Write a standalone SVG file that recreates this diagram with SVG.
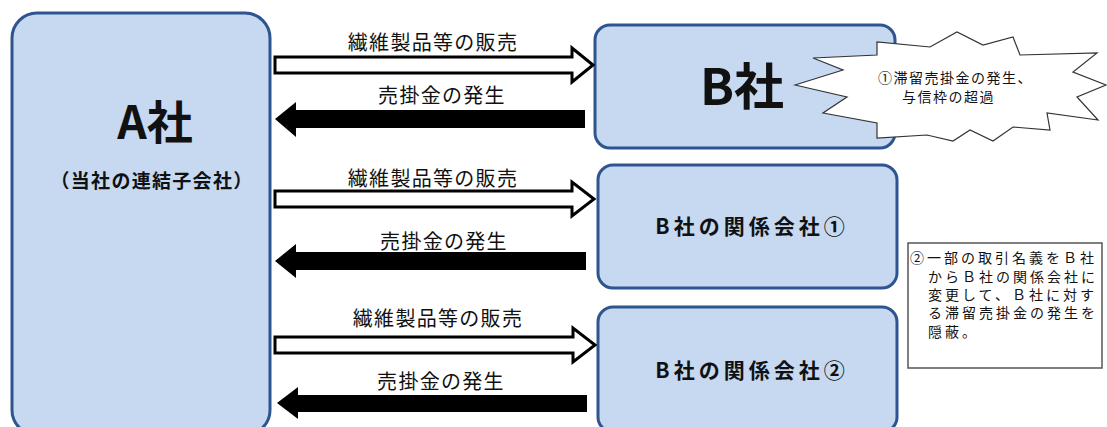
<svg xmlns="http://www.w3.org/2000/svg" width="1107" height="427" viewBox="0 0 1107 427">
<style>
.box{fill:#c6d9f1;stroke:#2f5590;stroke-width:3}
.t{font-family:"Noto Sans CJK JP","Noto Sans",sans-serif;fill:#111}
.lbl{font-size:20px;letter-spacing:1.3px;text-anchor:middle}
.hollow{fill:#fff;stroke:#000;stroke-width:3;stroke-linejoin:miter}
.solid{fill:#000;stroke:none}
.note{font-size:14px;letter-spacing:3px}
</style>
<rect width="1107" height="427" fill="#fff"/>
<g id="node-A">
<rect class="box" x="12" y="13" width="258" height="422" rx="25"/>
<text class="t" x="155" y="139" font-size="46" font-weight="bold" text-anchor="middle">A社</text>
<text class="t" x="152" y="188" font-size="19" font-weight="bold" letter-spacing="1.3" text-anchor="middle">（当社の連結子会社）</text>
</g>
<g id="node-B">
<rect class="box" x="595" y="25" width="300" height="123" rx="15"/>
<text class="t" x="742" y="105" font-size="50" font-weight="bold" text-anchor="middle">B社</text>
</g>
<g id="note-1">
<polygon points="795,85 843,70 813,58 877,55 877,42 930,47 957,32 983,45 1013,37 1020,55 1097,53 1073,72 1106,85 1077,97 1098,120 1047,113 1050,130 1013,127 993,141 970,130 953,141 927,135 877,138 877,123 823,113 847,97" fill="#fff" stroke="#333" stroke-width="1.2" stroke-linejoin="miter"/>
<text class="t" x="878" y="83" font-size="14" letter-spacing="1.5">①滞留売掛金の発生、</text>
<text class="t" x="902" y="102" font-size="14" letter-spacing="1.5">与信枠の超過</text>
</g>
<g id="node-B1">
<rect class="box" x="598" y="165" width="299" height="123" rx="15"/>
<text class="t" x="752" y="234" font-size="21" font-weight="bold" letter-spacing="4" text-anchor="middle">B社の関係会社①</text>
</g>
<g id="node-B2">
<rect class="box" x="598" y="307" width="299" height="125" rx="15"/>
<text class="t" x="752" y="378" font-size="21" font-weight="bold" letter-spacing="4" text-anchor="middle">B社の関係会社②</text>
</g>
<g id="note-2">
<rect x="908" y="243" width="194" height="125" fill="#fff" stroke="#555" stroke-width="1.5"/>
<text class="t note" x="910" y="263">②一部の取引名義をＢ社</text>
<text class="t note" x="928" y="282">からＢ社の関係会社に</text>
<text class="t note" x="928" y="300">変更して、Ｂ社に対す</text>
<text class="t note" x="928" y="318">る滞留売掛金の発生を</text>
<text class="t note" x="928" y="337">隠蔽。</text>
</g>
<g id="connectors">
<polygon class="hollow" points="275,57 572,57 572,48 593,65 572,82 572,73 275,73"/>
<polygon class="solid" points="585,110 296,110 296,102 275,119 296,137 296,128 585,128"/>
<polygon class="hollow" points="275,191 572,191 572,182 594,199 572,216 572,207 275,207"/>
<polygon class="solid" points="586,252 296,252 296,244 275,261 296,278 296,270 586,270"/>
<polygon class="hollow" points="275,337 573,337 573,328 595,345 573,362 573,353 275,353"/>
<polygon class="solid" points="587,395 298,395 298,387 277,403 298,419 298,412 587,412"/>
<text class="t lbl" x="433" y="50">繊維製品等の販売</text>
<text class="t lbl" x="442" y="103">売掛金の発生</text>
<text class="t lbl" x="433" y="186">繊維製品等の販売</text>
<text class="t lbl" x="444" y="249">売掛金の発生</text>
<text class="t lbl" x="438" y="326">繊維製品等の販売</text>
<text class="t lbl" x="441" y="389">売掛金の発生</text>
</g>
</svg>
